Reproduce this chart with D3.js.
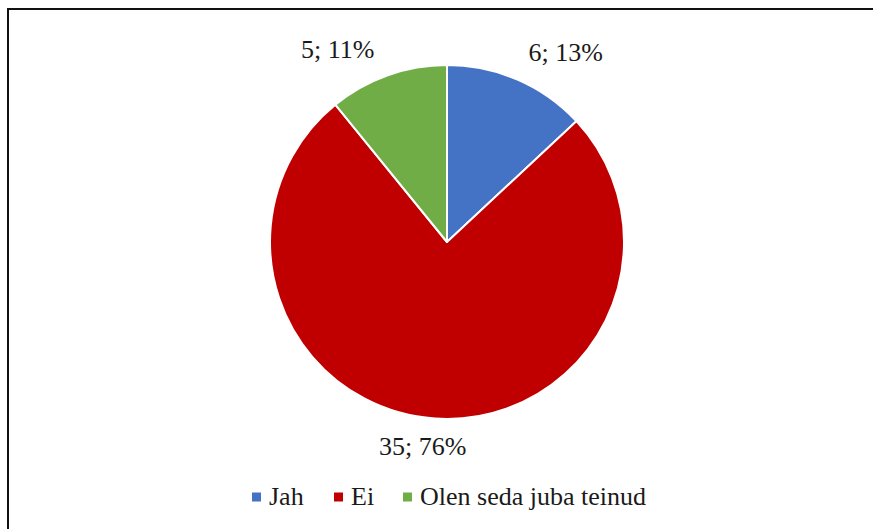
<!DOCTYPE html>
<html>
<head>
<meta charset="utf-8">
<style>
    body { margin: 0; background: #fff; }
    svg { display: block; }
    text { font-family: "Liberation Serif", "Times New Roman", serif; fill: #1a1a1a; }
</style>
</head>
<body>
<script src="https://cdn.jsdelivr.net/npm/d3@7"></script>
<script>
var categories = ["Jah", "Ei", "Olen seda juba teinud"];
var values = [6, 35, 5];
var percents = ["13%", "76%", "11%"];
var colors = ["#4472C4", "#C00000", "#70AD47"];

var width = 873, height = 529;
var cx = 447, cy = 242, radius = 177;

// label nudges (best-fit style placement, like the original)
var nudge = [[35, 12], [-10, 3], [-39, 14]];

var svg = d3.select("body").append("svg")
    .attr("width", width)
    .attr("height", height);

// frame: only top and left edges visible in the crop
svg.append("path")
    .attr("d", "M8," + (height + 5) + "V9H" + (width + 5))
    .attr("fill", "none")
    .attr("stroke", "#111")
    .attr("stroke-width", 2);

var data = categories.map(function(c, i) {
    return {name: c, value: values[i], pct: percents[i], color: colors[i]};
});

var pie = d3.pie()
    .sort(null)
    .value(function(d) { return d.value; });

var arc = d3.arc().innerRadius(0).outerRadius(radius);
var labelArc = d3.arc().innerRadius(210).outerRadius(210);

var g = svg.append("g")
    .attr("transform", "translate(" + cx + "," + cy + ")");

var arcs = pie(data);

g.selectAll("path.slice")
    .data(arcs)
    .enter().append("path")
    .attr("class", "slice")
    .attr("d", arc)
    .attr("fill", function(d) { return d.data.color; })
    .attr("stroke", "#fff")
    .attr("stroke-width", 2)
    .attr("stroke-linejoin", "round");

g.selectAll("text.lbl")
    .data(arcs)
    .enter().append("text")
    .attr("class", "lbl")
    .attr("x", function(d, i) { return labelArc.centroid(d)[0] + nudge[i][0]; })
    .attr("y", function(d, i) { return labelArc.centroid(d)[1] + nudge[i][1]; })
    .attr("text-anchor", "middle")
    .attr("font-size", 26)
    .text(function(d) { return d.data.value + "; " + d.data.pct; });

// legend
var legendX = [252, 334, 403];
var legend = svg.append("g").attr("transform", "translate(0,497)");

var item = legend.selectAll("g")
    .data(data)
    .enter().append("g")
    .attr("transform", function(d, i) { return "translate(" + legendX[i] + ",0)"; });

item.append("rect")
    .attr("x", 0)
    .attr("y", -4.5)
    .attr("width", 9)
    .attr("height", 9)
    .attr("fill", function(d) { return d.color; });

item.append("text")
    .attr("x", 17)
    .attr("y", 8)
    .attr("font-size", 26)
    .text(function(d) { return d.name; });
</script>
</body>
</html>
